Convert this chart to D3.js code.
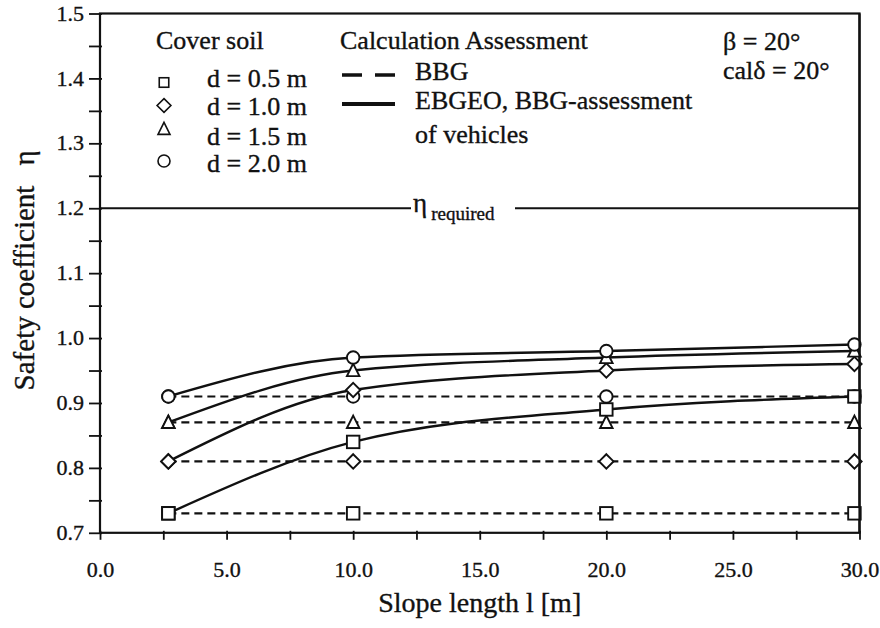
<!DOCTYPE html>
<html>
<head>
<meta charset="utf-8">
<script src="https://cdn.jsdelivr.net/npm/d3@7"></script>
<style>
  html, body { margin: 0; padding: 0; background: #fff; }
  svg { display: block; }
  text { font-family: "Liberation Serif", "Times New Roman", serif; fill: #111; stroke: #111; stroke-width: 0.35px; }
</style>
</head>
<body>
<svg id="chart" width="880" height="628"></svg>
<script>
// ---- data ----
const slopeLengths = [2.7, 10, 20, 29.8];
const coverDepths = ["d = 0.5 m", "d = 1.0 m", "d = 1.5 m", "d = 2.0 m"];
const markerShapes = ["square", "diamond", "triangle", "circle"];

// BBG (dashed) – constant with slope length
const bbg05 = [0.73, 0.73, 0.73, 0.73];
const bbg10 = [0.81, 0.81, 0.81, 0.81];
const bbg15 = [0.87, 0.87, 0.87, 0.87];
const bbg20 = [0.91, 0.91, 0.91, 0.91];

// EBGEO, BBG-assessment of vehicles (solid)
const ebgeo05 = [0.73, 0.84, 0.89, 0.91];
const ebgeo10 = [0.81, 0.92, 0.95, 0.96];
const ebgeo15 = [0.87, 0.95, 0.97, 0.98];
const ebgeo20 = [0.91, 0.97, 0.98, 0.99];

const xTicks = [0, 2.5, 5, 7.5, 10, 12.5, 15, 17.5, 20, 22.5, 25, 27.5, 30];
const yTicks = [0.7, 0.75, 0.8, 0.85, 0.9, 0.95, 1.0, 1.05, 1.1, 1.15, 1.2, 1.25, 1.3, 1.35, 1.4, 1.45, 1.5];
const etaRequired = 1.2;

// ---- layout ----
const svg = d3.select("#chart");
const L = 100, R = 859.5, T = 13.5, B = 532.8;
const x = d3.scaleLinear().domain([0, 30]).range([L, R]);
const y = d3.scaleLinear().domain([0.7, 1.5]).range([B, T]);

// axes
const yAxis = d3.axisLeft(y).tickValues(yTicks).tickSize(11).tickPadding(5)
  .tickFormat(d => Math.abs(d * 10 - Math.round(d * 10)) < 1e-6 ? d3.format(".1f")(d) : "");
const gy = svg.append("g").attr("transform", `translate(${L},0)`).call(yAxis);
gy.select(".domain").remove();
gy.selectAll(".tick line").attr("x1", 2).attr("stroke", "#111").attr("stroke-width", 1.8);
gy.selectAll(".tick text").attr("font-size", 22).attr("dy", "0.3em")
  .style("font-family", '"Liberation Serif", serif');

const xAxis = d3.axisBottom(x).tickValues(xTicks).tickSize(7).tickPadding(22)
  .tickFormat(d => d % 5 === 0 ? d3.format(".1f")(d) : "");
const gx = svg.append("g").attr("transform", `translate(0,${B})`).call(xAxis);
gx.select(".domain").remove();
gx.selectAll(".tick line").attr("y1", -2).attr("stroke", "#111").attr("stroke-width", 1.8);
gx.selectAll(".tick text").attr("font-size", 22)
  .style("font-family", '"Liberation Serif", serif');

// frame
svg.append("rect").attr("x", L).attr("y", T).attr("width", R - L).attr("height", B - T)
  .attr("fill", "none").attr("stroke", "#111").attr("stroke-width", 2.2);

// axis titles
svg.append("text").attr("x", (L + R) / 2).attr("y", 612).attr("text-anchor", "middle")
  .attr("font-size", 28).text("Slope length l [m]");
svg.append("text").attr("transform", "translate(34,288) rotate(-90)").attr("text-anchor", "middle")
  .attr("font-size", 29).text("Safety coefficient");
svg.append("text").attr("transform", "translate(34,158) rotate(-90)").attr("text-anchor", "middle")
  .attr("font-size", 29).text("η");

// eta required line
svg.append("line").attr("x1", L).attr("x2", 411).attr("y1", y(etaRequired)).attr("y2", y(etaRequired))
  .attr("stroke", "#111").attr("stroke-width", 2);
svg.append("line").attr("x1", 515).attr("x2", R).attr("y1", y(etaRequired)).attr("y2", y(etaRequired))
  .attr("stroke", "#111").attr("stroke-width", 2);
const etaT = svg.append("text").attr("x", 413).attr("y", y(etaRequired) + 4).attr("font-size", 27);
etaT.append("tspan").text("η");
etaT.append("tspan").attr("dx", 4).attr("dy", 8).attr("font-size", 19).text("required");

// ---- series ----
const bbgSeries = [bbg05, bbg10, bbg15, bbg20];
const ebgeoSeries = [ebgeo05, ebgeo10, ebgeo15, ebgeo20];

const dashedLine = d3.line().x((d, i) => x(slopeLengths[i])).y(d => y(d));
const solidLine = d3.line().x((d, i) => x(slopeLengths[i])).y(d => y(d)).curve(d3.curveMonotoneX);

bbgSeries.forEach(s => {
  svg.append("path").attr("d", dashedLine(s)).attr("fill", "none")
    .attr("stroke", "#111").attr("stroke-width", 2.2).attr("stroke-dasharray", "8,5");
});
ebgeoSeries.forEach(s => {
  svg.append("path").attr("d", solidLine(s)).attr("fill", "none")
    .attr("stroke", "#111").attr("stroke-width", 2.4);
});

function marker(g, shape, cx, cy, size) {
  const h = size / 2;
  let el;
  if (shape === "square") {
    el = g.append("rect").attr("x", cx - h).attr("y", cy - h).attr("width", size).attr("height", size);
  } else if (shape === "diamond") {
    const k = h * 1.15;
    el = g.append("path").attr("d", `M${cx},${cy - k}L${cx + k},${cy}L${cx},${cy + k}L${cx - k},${cy}Z`);
  } else if (shape === "triangle") {
    el = g.append("path").attr("d", `M${cx},${cy - h * 1.1}L${cx + h},${cy + h * 0.9}L${cx - h},${cy + h * 0.9}Z`);
  } else {
    el = g.append("circle").attr("cx", cx).attr("cy", cy).attr("r", h);
  }
  el.attr("fill", "#fff").attr("stroke", "#111").attr("stroke-width", 1.9);
  return el;
}

const mg = svg.append("g");
[bbgSeries, ebgeoSeries].forEach(group => {
  group.forEach((s, si) => {
    s.forEach((v, i) => marker(mg, markerShapes[si], x(slopeLengths[i]), y(v), 12.5));
  });
});

// redraw right frame edge on top (markers sit on it)
svg.append("line").attr("x1", R).attr("x2", R).attr("y1", T).attr("y2", B)
  .attr("stroke", "#111").attr("stroke-width", 2.2);

// ---- legend ----
const lg = svg.append("g");
lg.append("text").attr("x", 156).attr("y", 49).attr("font-size", 26).text("Cover soil");
const legMarkerY = [82.5, 105.5, 129, 161];
const legTextY = [87, 115, 145, 172];
coverDepths.forEach((label, i) => {
  marker(lg, markerShapes[i], 164, legMarkerY[i], i === 0 ? 9.5 : 12).attr("fill", "none").attr("stroke-width", 1.6);
  lg.append("text").attr("x", 207).attr("y", legTextY[i]).attr("font-size", 26).text(label);
});

lg.append("text").attr("x", 340).attr("y", 49).attr("font-size", 26).text("Calculation Assessment");
lg.append("line").attr("x1", 342).attr("x2", 395).attr("y1", 75).attr("y2", 75)
  .attr("stroke", "#111").attr("stroke-width", 3.5).attr("stroke-dasharray", "20,13");
lg.append("text").attr("x", 415).attr("y", 80).attr("font-size", 26).text("BBG");
lg.append("line").attr("x1", 342).attr("x2", 395).attr("y1", 104).attr("y2", 104)
  .attr("stroke", "#111").attr("stroke-width", 3.8);
lg.append("text").attr("x", 415).attr("y", 108.5).attr("font-size", 26).text("EBGEO, BBG-assessment");
lg.append("text").attr("x", 415).attr("y", 143).attr("font-size", 26).text("of vehicles");

lg.append("text").attr("x", 723).attr("y", 50).attr("font-size", 26).text("β = 20°");
lg.append("text").attr("x", 723).attr("y", 78.5).attr("font-size", 26).text("calδ = 20°");
</script>
</body>
</html>
